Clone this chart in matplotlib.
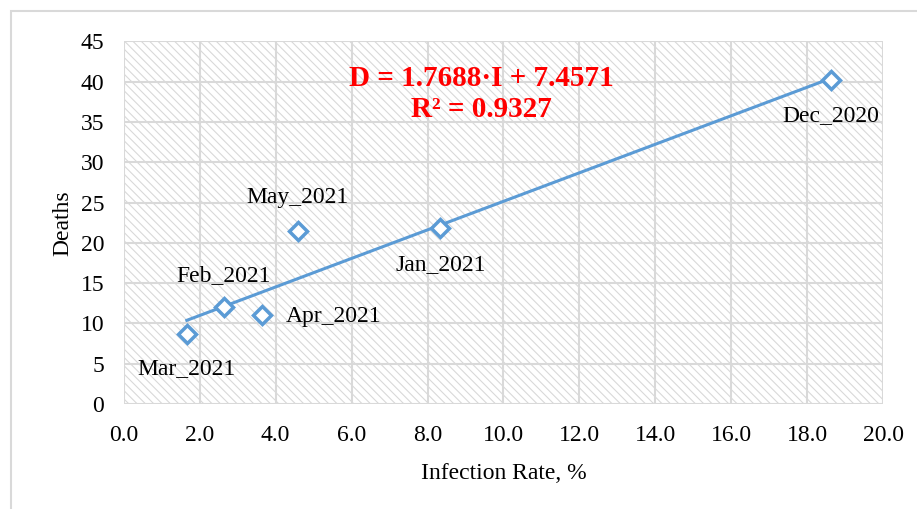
import matplotlib
matplotlib.use("Agg")
import matplotlib.pyplot as plt
from matplotlib.patches import Rectangle

# -------- DATA --------
months = ["Mar_2021", "Feb_2021", "Apr_2021", "May_2021", "Jan_2021", "Dec_2020"]
infection_rate = [1.66, 2.63, 3.63, 4.58, 8.34, 18.63]
deaths = [8.65, 12.0, 11.1, 21.5, 21.9, 40.2]

slope = 1.7688
intercept = 7.4571
eq_text = "D = 1.7688\u00b7I + 7.4571"
r2_text = "R\u00b2 = 0.9327"

x_ticks = [0, 2, 4, 6, 8, 10, 12, 14, 16, 18, 20]
y_ticks = [0, 5, 10, 15, 20, 25, 30, 35, 40, 45]

# label offsets in pixels (dx, dy, ha)
label_pos = {
    "Mar_2021": (0, -34, "center"),
    "Feb_2021": (0, 32, "center"),
    "Apr_2021": (24, -2, "left"),
    "May_2021": (0, 33, "center"),
    "Jan_2021": (0, -37, "center"),
    "Dec_2020": (0, -36, "center"),
}

plt.rcParams["font.family"] = ["Liberation Serif", "DejaVu Serif"]
plt.rcParams["hatch.color"] = "#d9d9d9"
plt.rcParams["hatch.linewidth"] = 0.8

blue = "#5b9bd5"
grid = "#d9d9d9"

fig = plt.figure(figsize=(9.17, 5.09), dpi=100)
ax = fig.add_axes([0.135, 0.206, 0.828, 0.713])

# figure border (left and top visible)
fig.add_artist(Rectangle((11 / 917, -0.1), 1.1, 1 - 11 / 509 + 0.1,
                         transform=fig.transFigure, fill=False,
                         edgecolor=grid, linewidth=1.5))

# hatched plot area
ax.add_patch(Rectangle((0, 0), 1, 1, transform=ax.transAxes, facecolor="white",
                       hatch="\\\\\\\\", edgecolor="#d9d9d9", linewidth=0, zorder=0))

ax.set_xlim(0, 20)
ax.set_ylim(0, 45)
ax.set_xticks(x_ticks)
ax.set_yticks(y_ticks)
ax.set_xticklabels([f"{v:.1f}" for v in x_ticks])
ax.grid(True, color=grid, linewidth=1.5, zorder=1)
ax.set_axisbelow(True)
for s in ax.spines.values():
    s.set_visible(False)
ax.tick_params(axis="x", length=0, labelsize=17, pad=15)
ax.tick_params(axis="y", length=0, labelsize=17, pad=14)

# trendline
xs = [min(infection_rate), max(infection_rate)]
ax.plot(xs, [slope * v + intercept for v in xs], color=blue, linewidth=2.2, zorder=3)

ax.plot(infection_rate, deaths, linestyle="none", marker="D", markersize=9,
        markerfacecolor="white", markeredgecolor=blue, markeredgewidth=2.5, zorder=4)

for m, x, y in zip(months, infection_rate, deaths):
    dx, dy, ha = label_pos[m]
    ax.annotate(m, (x, y), xytext=(dx, dy), textcoords="offset pixels",
                ha=ha, va="center", fontsize=17, zorder=5)

ax.text(9.42, 40.4, eq_text, color="red", fontsize=21, fontweight="bold",
        ha="center", va="center", zorder=5)
ax.text(9.42, 36.5, r2_text, color="red", fontsize=21, fontweight="bold",
        ha="center", va="center", zorder=5)

ax.set_xlabel("Infection Rate, %", fontsize=17, labelpad=12)
ax.set_ylabel("Deaths", fontsize=17, labelpad=5)

fig.savefig("out.png", dpi=100)
